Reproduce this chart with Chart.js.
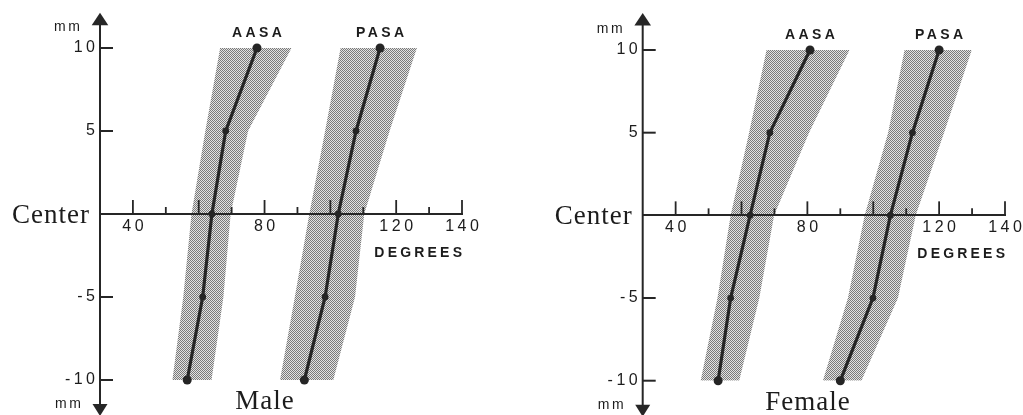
<!DOCTYPE html>
<html><head><meta charset="utf-8">
<script src="https://cdn.jsdelivr.net/npm/chart.js@4.4.1/dist/chart.umd.min.js"></script>
<style>
html,body{margin:0;padding:0;background:#fff;width:1023px;height:415px;overflow:hidden}
.p{position:absolute;top:0;height:415px}
#wl{left:0;width:520px}
#wr{left:520px;width:503px}
canvas{display:block}
</style></head><body>
<div class="p" id="wl"><canvas id="cl" width="520" height="415"></canvas></div>
<div class="p" id="wr"><canvas id="cr" width="503" height="415"></canvas></div>
<script>
// ---- data ----
const mmLevels = [-10, -5, 0, 5, 10];
const yTickValues = [-10, -5, 0, 5, 10];
const xTickLabels = [40, 80, 120, 140];
const xMajorTicks = [40, 60, 80, 100, 120, 140];
const xMinorTicks = [50, 70, 90, 110, 130];
const seriesNames = ['AASA', 'PASA'];
const panelTitles = ['Male', 'Female'];
const centerLabel = 'Center';
const unitLabel = 'mm';
const xAxisTitle = 'DEGREES';

const maleAASAMean = [56.5, 61.2, 64.0, 68.2, 77.7];
const maleAASALow  = [52.0, 55.3, 57.8, 62.0, 66.5];
const maleAASAHigh = [63.9, 67.5, 69.7, 75.0, 88.2];
const malePASAMean = [92.1, 98.4, 102.4, 107.8, 115.1];
const malePASALow  = [84.7, 89.2, 93.6, 98.4, 103.1];
const malePASAHigh = [100.9, 107.5, 110.3, 118.0, 126.3];

const femaleAASAMean = [52.9, 56.7, 62.6, 68.6, 80.8];
const femaleAASALow  = [47.6, 52.7, 56.7, 62.3, 67.6];
const femaleAASAHigh = [59.3, 65.4, 69.9, 80.5, 92.8];
const femalePASAMean = [90.0, 99.9, 105.2, 111.9, 120.0];
const femalePASALow  = [84.7, 92.3, 97.4, 104.5, 109.5];
const femalePASAHigh = [96.4, 107.5, 112.9, 121.5, 129.9];

// ---- styles ----
const INK = '#262626';
const SANS = '"Liberation Sans", Arial, sans-serif';
const SERIF = '"Liberation Serif", "Times New Roman", serif';
const TICK_LS = 3.5;

function stipple(ctx) {
  const c = document.createElement('canvas');
  c.width = 2; c.height = 2;
  const g = c.getContext('2d');
  g.fillStyle = '#e2e2e2'; g.fillRect(0, 0, 2, 2);
  g.fillStyle = '#7a7a7a'; g.fillRect(0, 0, 1, 1); g.fillRect(1, 1, 1, 1);
  return ctx.createPattern(c, 'repeat');
}

function pts(arr) { return mmLevels.map((m, i) => ({x: arr[i], y: m})); }

function txt(ctx, s, x, y, font, align, ls) {
  ctx.font = font;
  ctx.letterSpacing = ls + 'px';
  ctx.textAlign = align;
  ctx.textBaseline = 'alphabetic';
  const dx = align === 'center' ? ls / 2 : (align === 'right' ? ls : 0);
  ctx.fillText(s, x + dx, y);
}

const decor = {
  id: 'decor',
  beforeDraw(chart) { chart.ctx.letterSpacing = TICK_LS + 'px'; },
  afterDraw(chart, args, o) {
    const ctx = chart.ctx, xs = chart.scales.x, ys = chart.scales.y, a = chart.chartArea;
    const x0 = a.left, y0 = ys.getPixelForValue(0);
    ctx.save();
    ctx.strokeStyle = INK; ctx.fillStyle = INK; ctx.lineWidth = 2;
    const tipTop = a.top - o.arrowTop, tipBot = a.bottom + 36;
    // vertical axis
    ctx.beginPath(); ctx.moveTo(x0, tipTop + 10); ctx.lineTo(x0, tipBot - 10); ctx.stroke();
    // arrows
    ctx.beginPath(); ctx.moveTo(x0, tipTop); ctx.lineTo(x0 - 8.3, tipTop + 12.5); ctx.lineTo(x0 + 8.3, tipTop + 12.5); ctx.closePath(); ctx.fill();
    ctx.beginPath(); ctx.moveTo(x0, tipBot); ctx.lineTo(x0 - 7.5, tipBot - 12); ctx.lineTo(x0 + 7.5, tipBot - 12); ctx.closePath(); ctx.fill();
    // y ticks
    yTickValues.filter(v => v !== 0).forEach(v => {
      const y = ys.getPixelForValue(v);
      ctx.beginPath(); ctx.moveTo(x0, y); ctx.lineTo(x0 + 13, y); ctx.stroke();
    });
    // x ticks (upward)
    ctx.lineWidth = 1.8;
    xMajorTicks.forEach(v => { const x = xs.getPixelForValue(v); ctx.beginPath(); ctx.moveTo(x, y0); ctx.lineTo(x, y0 - 14); ctx.stroke(); });
    xMinorTicks.forEach(v => { const x = xs.getPixelForValue(v); ctx.beginPath(); ctx.moveTo(x, y0); ctx.lineTo(x, y0 - 7); ctx.stroke(); });
    // texts
    ctx.fillStyle = '#1c1c1c';
    txt(ctx, unitLabel, x0 - 33, a.top - 17, '14px ' + SANS, 'center', 2.5);
    txt(ctx, unitLabel, x0 - 32, a.bottom + 28, '14px ' + SANS, 'center', 2.5);
    txt(ctx, centerLabel, x0 - 11, y0 + 9, '27px ' + SERIF, 'right', 1);
    txt(ctx, o.title, xs.getPixelForValue(80), a.bottom + 29, '27px ' + SERIF, 'center', 1);
    o.seriesAt.forEach((v, i) => txt(ctx, seriesNames[i], xs.getPixelForValue(v), a.top - 11, 'bold 14px ' + SANS, 'center', 3.4));
    txt(ctx, xAxisTitle, xs.getPixelForValue(140), y0 + 43, 'bold 14px ' + SANS, 'right', 3.2);
    ctx.restore();
  }
};

function makePanel(id, title, aMean, aLow, aHigh, pMean, pLow, pHigh, pad, arrowTop) {
  const canvas = document.getElementById(id);
  const ctx = canvas.getContext('2d');
  const pat = stipple(ctx);
  const band = (arr, fill) => ({
    data: pts(arr), borderWidth: 0, pointRadius: 0, borderColor: 'transparent',
    backgroundColor: fill ? pat : 'transparent', fill: fill ? '-1' : false, order: 2, clip: false, tension: 0
  });
  const mean = arr => ({
    data: pts(arr), borderColor: '#252525', borderWidth: 3.2, backgroundColor: '#252525',
    pointBackgroundColor: '#252525', pointBorderWidth: 0,
    pointRadius: [4.5, 3.4, 3.4, 3.4, 4.5], fill: false, order: 0, clip: false, tension: 0
  });
  return new Chart(ctx, {
    type: 'line',
    data: {
      datasets: [band(aLow, false), band(aHigh, true), band(pLow, false), band(pHigh, true), mean(aMean), mean(pMean)]
    },
    options: {
      indexAxis: 'y',
      responsive: false,
      animation: false,
      events: [],
      layout: {padding: pad},
      plugins: {
        legend: {display: false},
        tooltip: {enabled: false},
        decor: {title: title, seriesAt: [aMean[4], pMean[4]], arrowTop: arrowTop}
      },
      scales: {
        x: {
          type: 'linear', min: 30, max: 140, position: {y: 0},
          afterBuildTicks: s => { s.ticks = xTickLabels.map(v => ({value: v})); },
          grid: {display: false, drawTicks: false},
          border: {display: true, color: INK, width: 2, z: 1},
          ticks: {
            font: {family: SANS, size: 16}, color: '#1c1c1c',
            padding: 3, labelOffset: TICK_LS / 2, autoSkip: false, maxRotation: 0, z: 1,
            callback: v => String(v)
          }
        },
        y: {
          type: 'linear', min: -10, max: 10, position: 'left',
          afterBuildTicks: s => { s.ticks = yTickValues.filter(v => v !== 0).map(v => ({value: v})); },
          afterFit: s => { s.width = 60; },
          grid: {display: false, drawTicks: false},
          border: {display: false},
          ticks: {
            font: {family: SANS, size: 16}, color: '#1c1c1c',
            padding: 1.5, autoSkip: false, z: 1,
            callback: v => String(v)
          }
        }
      }
    },
    plugins: [decor]
  });
}

makePanel('cl', panelTitles[0], maleAASAMean, maleAASALow, maleAASAHigh, malePASAMean, malePASALow, malePASAHigh,
  {left: 40, right: 58, top: 48, bottom: 35}, 35.3);
makePanel('cr', panelTitles[1], femaleAASAMean, femaleAASALow, femaleAASAHigh, femalePASAMean, femalePASALow, femalePASAHigh,
  {left: 62.7, right: 18, top: 50, bottom: 34.3}, 37);
</script>
</body></html>
